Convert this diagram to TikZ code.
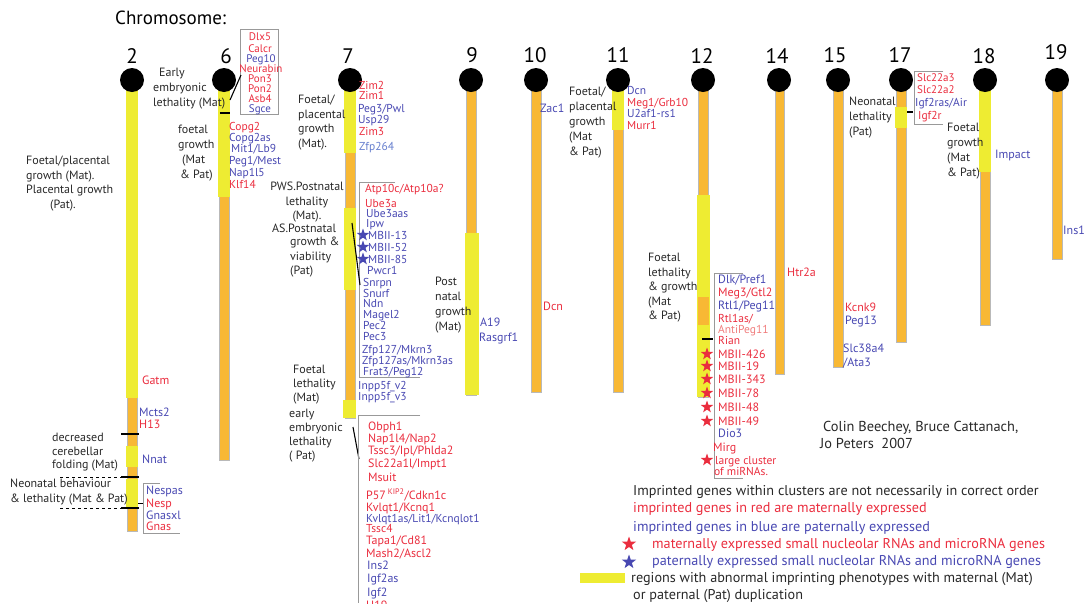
\documentclass[tikz,border=0pt]{standalone}
\usepackage{fontspec}
\setmainfont{PT Sans}
\usetikzlibrary{shapes.geometric}
\definecolor{matred}{RGB}{234,45,62}
\definecolor{patblue}{RGB}{72,72,178}
\definecolor{lightblue}{RGB}{100,125,205}
\definecolor{lightred}{RGB}{240,125,125}
\definecolor{chryellow}{RGB}{238,236,50}
\definecolor{chrorange}{RGB}{248,184,52}
\definecolor{txt}{RGB}{40,40,40}
\newcommand\gf{\fontsize{12}{12}\selectfont}
\newcommand\gdf{\fontsize{11.5}{12}\selectfont}
\newcommand\gsf{\fontsize{11}{12}\selectfont}
\newcommand\pf{\fontsize{12}{14.5}\selectfont}
\newcommand\lf{\fontsize{14.2}{16}\selectfont}
\tikzset{
  gene/.style={anchor=base west, inner sep=0pt, font=\gf},
  mat/.style={gene, text=matred},
  pat/.style={gene, text=patblue},
  dmat/.style={mat, font=\gdf},
  dpat/.style={pat, font=\gdf},
  pheno/.style={anchor=north west, inner sep=0pt, align=left, font=\pf, text=txt},
  chrnum/.style={inner sep=0pt, font=\fontsize{21}{21}\selectfont, text=black},
  orangebar/.style={fill=chrorange, draw=gray!55, line width=0.5pt},
  yellowseg/.style={fill=chryellow},
  boxline/.style={draw=gray!80, line width=0.7pt},
  tick/.style={draw=black, line width=1.3pt},
  diag/.style={draw=black, line width=1.1pt},
  rstar/.style={star, star points=5, star point ratio=2.5, fill=matred, inner sep=0pt, minimum size=13pt},
  bstar/.style={star, star points=5, star point ratio=2.5, fill=patblue, inner sep=0pt, minimum size=13pt},
  legend/.style={anchor=base west, inner sep=0pt, font=\lf},
}
\begin{document}
\begin{tikzpicture}[x=1pt,y=-1pt]
\useasboundingbox (0,0) rectangle (1087,603);

% ---------- chromosome bars ----------
% chr 2
\path[orangebar] (127,80) rectangle (137,531);
\path[yellowseg] (126,80) rectangle (138,398);
\path[yellowseg] (126,446) rectangle (138,467);
\path[yellowseg] (126,479) rectangle (138,508);
% chr 6
\path[orangebar] (219,80) rectangle (229,460);
\path[yellowseg] (218,80) rectangle (230,197);
% chr 7
\path[orangebar] (345,80) rectangle (355,418);
\path[yellowseg] (344,80) rectangle (356,153);
\path[yellowseg] (344,208) rectangle (356,290);
\path[yellowseg] (343,400) rectangle (356,418);
% chr 9
\path[orangebar] (466,80) rectangle (476,395);
\path[yellowseg] (465,233) rectangle (479,395);
% chr 10
\path[orangebar] (531,80) rectangle (541,392);
% chr 11
\path[orangebar] (613,80) rectangle (623,392);
\path[yellowseg] (612,80) rectangle (624,130);
% chr 12
\path[orangebar] (698,80) rectangle (708,397);
\path[yellowseg] (697,195) rectangle (710,397);
\path[fill=chrorange] (698,297) rectangle (709,325);
% chr 14
\path[orangebar] (775,80) rectangle (784,374);
% chr 15
\path[orangebar] (833,80) rectangle (843,367);
% chr 17
\path[orangebar] (896,80) rectangle (906,342);
\path[yellowseg] (895,107) rectangle (907,128);
% chr 18
\path[orangebar] (980,80) rectangle (990,325);
\path[yellowseg] (979,80) rectangle (991,172);
% chr 19
\path[orangebar] (1052,80) rectangle (1062,259);

% centromeres
\foreach \cx in {132,224,350,471,536,618,703,779,838,901,985,1057}
  \fill[black] (\cx,80) circle (12);

% numbers
\node[anchor=west, inner sep=0pt, font=\fontsize{19}{19}\selectfont] (title) at (115,18) {Chromosome:};
\node[chrnum] (n2) at (132,56) {2};
\node[chrnum] (n6) at (226,56) {6};
\node[chrnum] (n7) at (348,56) {7};
\node[chrnum] (n9) at (472,55) {9};
\node[chrnum] (n10) at (535,55) {10};
\node[chrnum] (n11) at (618,55) {11};
\node[chrnum] (n12) at (702,56) {12};
\node[chrnum] (n14) at (777,56) {14};
\node[chrnum] (n15) at (835,55) {15};
\node[chrnum] (n17) at (900,55) {17};
\node[chrnum] (n18) at (984,56) {18};
\node[chrnum] (n19) at (1056,52) {19};

% ---------- chromosome 2 ----------
\node[pheno] (p2a) at (26,156) {Foetal/placental\\growth (Mat).\\Placental growth\\\hspace*{24pt}(Pat).};
\node[pheno, font=\fontsize{12}{13.5}\selectfont] (p2b) at (52,433) {decreased\\cerebellar\\folding (Mat)};
\node[pheno] (p2c) at (10,479) {Neonatal behaviour\\\& lethality (Mat \& Pat)};
\node[mat] (g2a) at (142,384) {Gatm};
\node[pat] (g2b) at (139,416) {Mcts2};
\node[mat] (g2c) at (139,428) {H13};
\node[pat] (g2d) at (142,463) {Nnat};
\node[pat] (g2e) at (146,494) {Nespas};
\node[mat] (g2f) at (146,507) {Nesp};
\node[pat] (g2g) at (146,519) {Gnasxl};
\node[mat] (g2h) at (146,530) {Gnas};
\coordinate (t2a) at (121,434); \coordinate (t2b) at (139,434);
\coordinate (t2c) at (121,477); \coordinate (t2d) at (139,477);
\coordinate (t2e) at (121,508); \coordinate (t2f) at (139,508);
\coordinate (d2a) at (60,477); \coordinate (d2b) at (60,508);
\draw[tick] (t2a) -- (t2b);
\draw[tick] (t2c) -- (t2d);
\draw[tick] (t2e) -- (t2f);
\draw[dashed, line width=0.8pt] (d2a) -- (t2c);
\draw[dashed, line width=0.8pt] (d2b) -- (t2e);
\draw[boxline] (160,483) -- (143,483) -- (143,533) -- (180,533);
\draw[line width=1pt] (138,503) -- (143,503);

% ---------- chromosome 6 ----------
\draw[boxline] (240,29) rectangle (278,114);
\node[mat, anchor=base, font=\gsf] (g6a) at (260,40) {Dlx5};
\node[mat, anchor=base, font=\gsf] (g6b) at (260,52) {Calcr};
\node[pat, anchor=base, font=\gsf] (g6c) at (261,62) {Peg10};
\node[mat, anchor=base, font=\gsf] (g6d) at (261,72) {Neurabin};
\node[mat, anchor=base, font=\gsf] (g6e) at (260,82) {Pon3};
\node[mat, anchor=base, font=\gsf] (g6f) at (260,92) {Pon2};
\node[mat, anchor=base, font=\gsf] (g6g) at (260,102) {Asb4};
\node[pat, anchor=base, font=\gsf] (g6h) at (260,112) {Sgce};
\draw[diag] (230,100) -- (241,75);
\draw[tick] (220,113) -- (230,113);
\node[pheno, font=\fontsize{12}{15}\selectfont] (p6a) at (153,68) {\hspace*{6pt}Early\\embryonic\\lethality (Mat)};
\node[pheno, font=\fontsize{12}{15}\selectfont] (p6b) at (178,125) {foetal\\growth\\\hspace*{4pt}(Mat\\\hspace*{2pt}\& Pat)};
\node[dmat] (g6i) at (229,130) {Copg2};
\node[dpat] (g6j) at (229,141) {Copg2as};
\node[dpat] (g6k) at (231,152) {Mit1/Lb9};
\node[dpat] (g6l) at (229,164) {Peg1/Mest};
\node[dpat] (g6m) at (229,176) {Nap1l5};
\node[dmat] (g6n) at (229,188) {Klf14};

% ---------- chromosome 7 ----------
\node[pheno] (p7a) at (298,95) {Foetal/\\placental\\growth\\(Mat).};
\node[dmat] (g7a) at (359,89) {Zim2};
\node[dmat] (g7b) at (359,99) {Zim1};
\node[dpat] (g7c) at (358,112) {Peg3/Pwl};
\node[dpat] (g7d) at (358,123) {Usp29};
\node[dmat] (g7e) at (359,135) {Zim3};
\node[gene, font=\gdf, text=lightblue] (g7f) at (359,150) {Zfp264};
\node[pheno, align=center, anchor=north] (p7b) at (307,182) {PWS.Postnatal\\lethality\\(Mat).};
\node[anchor=base west, inner sep=0pt, font=\pf, text=txt] (p7c) at (272,232) {AS.Postnatal};
\node[pheno] (p7d) at (290,237) {growth \&\\viability\\(Pat)};
\draw[boxline] (395,182) -- (359,182) -- (359,377) -- (420,377);
\node[dmat] (g7g) at (365,192) {Atp10c/Atp10a?};
\node[dmat] (g7h) at (365,207) {Ube3a};
\node[dpat] (g7i) at (366,217) {Ube3aas};
\node[dpat] (g7j) at (366,227) {Ipw};
\node[dpat] (g7k) at (368,239) {MBII-13};
\node[dpat] (g7l) at (368,251) {MBII-52};
\node[dpat] (g7m) at (368,263) {MBII-85};
\node[bstar] (s7a) at (363,235) {};
\node[bstar] (s7b) at (363,247) {};
\node[bstar] (s7c) at (363,259) {};
\node[dpat] (g7n) at (367,274) {Pwcr1};
\node[dpat] (g7o) at (363,286) {Snrpn};
\node[dpat] (g7p) at (363,297) {Snurf};
\node[dpat] (g7q) at (363,307) {Ndn};
\node[dpat] (g7r) at (363,318) {Magel2};
\node[dpat] (g7s) at (363,329) {Pec2};
\node[dpat] (g7t) at (363,340) {Pec3};
\node[dpat] (g7u) at (362,353) {Zfp127/Mkrn3};
\node[dpat] (g7v) at (362,364) {Zfp127as/Mkrn3as};
\node[dpat] (g7w) at (363,375) {Frat3/Peg12};
\node[dpat] (g7x) at (358,389) {Inpp5f\_v2};
\node[dpat] (g7y) at (358,400) {Inpp5f\_v3};
\draw[diag] (352,223) -- (360,285);
\node[pheno, font=\fontsize{12}{14}\selectfont] (p7e) at (293,365) {Foetal\\lethality\\(Mat)};
\node[pheno, font=\fontsize{12}{14}\selectfont] (p7f) at (289,409) {early\\embryonic\\lethality\\( Pat)};
\draw[diag] (353,427) -- (359,459);
\draw[boxline] (420,415) -- (358,415) -- (358,603);
\node[mat] (g7z) at (368,430) {Obph1};
\node[mat] (g7aa) at (368,442) {Nap1l4/Nap2};
\node[mat] (g7ab) at (368,454) {Tssc3/Ipl/Phlda2};
\node[mat] (g7ac) at (368,467) {Slc22a1l/Impt1};
\node[mat] (g7ad) at (368,481) {Msuit};
\node[mat] (g7ae) at (366,499) {P57\,\textsuperscript{KIP2}/Cdkn1c};
\node[mat] (g7af) at (366,511) {Kvlqt1/Kcnq1};
\node[dpat] (g7ag) at (366,522) {Kvlqt1as/Lit1/Kcnqlot1};
\node[dmat] (g7ah) at (366,532) {Tssc4};
\node[mat] (g7ai) at (366,544) {Tapa1/Cd81};
\node[mat] (g7aj) at (366,557) {Mash2/Ascl2};
\node[pat] (g7ak) at (367,569) {Ins2};
\node[pat] (g7al) at (367,582) {Igf2as};
\node[pat] (g7am) at (367,596) {Igf2};
\node[mat] (g7an) at (366,609) {H19};

% ---------- chromosome 9, 10, 11 ----------
\node[pheno, font=\fontsize{12}{15}\selectfont] (p9) at (435,277) {Post\\natal\\growth\\(Mat)};
\node[pat] (g9a) at (480,326) {A19};
\node[pat] (g9b) at (479,341) {Rasgrf1};
\node[pat] (g10a) at (540,112) {Zac1};
\node[mat] (g10b) at (543,310) {Dcn};
\node[pheno, font=\fontsize{12}{15}\selectfont] (p11) at (569,87) {Foetal/\\placental\\growth\\(Mat\\\& Pat)};
\node[dpat] (g11a) at (627,94) {Dcn};
\node[dmat] (g11b) at (627,106) {Meg1/Grb10};
\node[dpat] (g11c) at (627,117) {U2af1-rs1};
\node[dmat] (g11d) at (627,129) {Murr1};

% ---------- chromosome 12 ----------
\node[pheno] (p12) at (648,253) {Foetal\\lethality\\\& growth\\(Mat\\\& Pat)};
\draw[boxline] (743,273) -- (714,273) -- (714,478) -- (743,478);
\draw[tick] (702,339) -- (713,339);
\node[pat] (g12a) at (718,283) {Dlk/Pref1};
\node[mat] (g12b) at (718,296) {Meg3/Gtl2};
\node[pat] (g12c) at (718,309) {Rtl1/Peg11};
\node[dmat] (g12d) at (718,322) {Rtl1as/};
\node[gene, font=\gdf, text=lightred] (g12e) at (718,333) {AntiPeg11};
\node[dmat] (g12f) at (718,344) {Rian};
\node[mat] (g12g) at (718,358) {MBII-426};
\node[mat] (g12h) at (718,370) {MBII-19};
\node[mat] (g12i) at (718,383) {MBII-343};
\node[mat] (g12j) at (718,397) {MBII-78};
\node[mat] (g12k) at (718,411) {MBII-48};
\node[mat] (g12l) at (718,425) {MBII-49};
\node[pat] (g12m) at (718,437) {Dio3};
\node[mat] (g12n) at (713,451) {Mirg};
\node[dmat] (g12o) at (715,464) {large cluster};
\node[dmat] (g12p) at (714,475) {of miRNAs.};
\foreach \sy [count=\i] in {354,366,379,393,407,421,460}
  \node[rstar] (s12-\i) at (707,\sy) {};

% ---------- chromosome 14, 15 ----------
\node[mat] (g14) at (787,276) {Htr2a};
\node[mat] (g15a) at (845,311) {Kcnk9};
\node[pat] (g15b) at (845,324) {Peg13};
\node[pat] (g15c) at (843,352) {Slc38a4};
\node[pat] (g15d) at (843,366) {/Ata3};

% ---------- chromosome 17, 18, 19 ----------
\node[pheno, font=\fontsize{12}{15}\selectfont] (p17) at (849,97) {Neonatal\\lethality\\(Pat)};
\draw[tick] (907,112) -- (913,112);
\draw[boxline] (943,71) -- (914,71) -- (914,124) -- (943,124);
\node[mat, font=\gsf] (g17a) at (917,81) {Slc22a3};
\node[mat, font=\gsf] (g17b) at (917,93) {Slc22a2};
\node[dpat] (g17c) at (915,106) {Igf2ras/Air};
\node[dmat] (g17d) at (918,119) {Igf2r};
\node[pheno, font=\fontsize{12}{15}\selectfont] (p18) at (947,123) {Foetal\\growth\\(Mat\\\& Pat)};
\node[pat] (g18) at (995,158) {Impact};
\node[pat] (g19) at (1063,234) {Ins1};

% ---------- credits & legend ----------
\node[anchor=base west, inner sep=0pt, font=\fontsize{14.4}{16}\selectfont, text=txt] (cred1) at (823,431) {Colin Beechey, Bruce Cattanach,};
\node[anchor=base west, inner sep=0pt, font=\fontsize{14.4}{16}\selectfont, text=txt] (cred2) at (820,448) {Jo Peters\ \ 2007};
\node[legend, text=txt] (l1) at (633,495) {Imprinted genes within clusters are not necessarily in correct order};
\node[legend, text=matred] (l2) at (633,512) {imprinted genes in red are maternally expressed};
\node[legend, text=patblue] (l3) at (633,531) {imprinted genes in blue are paternally expressed};
\node[rstar, minimum size=15pt] (ls1) at (629,544) {};
\node[legend, text=matred] (l4) at (652,548) {maternally expressed small nucleolar RNAs and microRNA genes};
\node[bstar, minimum size=15pt] (ls2) at (629,562) {};
\node[legend, text=patblue] (l5) at (652,565) {paternally expressed small nucleolar RNAs and microRNA genes};
\fill[chryellow] (580,573) rectangle (625,583);
\node[legend, text=txt] (l6) at (631,582) {regions with abnormal imprinting phenotypes with maternal (Mat)};
\node[legend, text=txt] (l7) at (633,599) {or paternal (Pat) duplication};
\end{tikzpicture}
\end{document}
